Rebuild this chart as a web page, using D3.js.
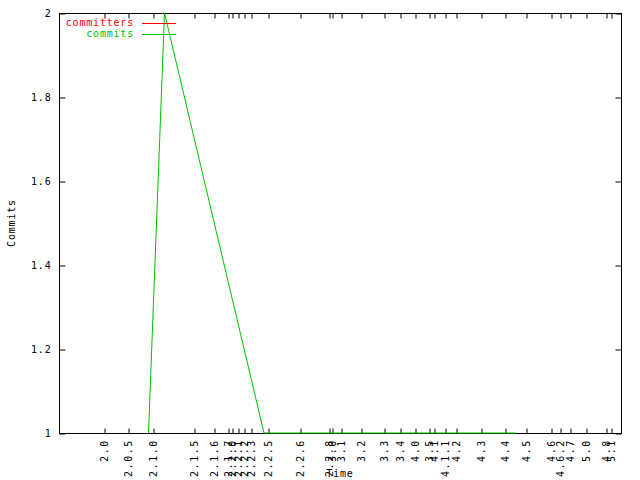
<!DOCTYPE html>
<html><head><meta charset="utf-8">
<script src="https://cdn.jsdelivr.net/npm/d3@7"></script>
<style>body{margin:0;background:#fff}text{font-family:"DejaVu Sans Mono",monospace;font-size:10px;letter-spacing:0.8px}</style>
</head><body><svg id="c" width="640" height="480"></svg>
<script>
// Time axis in days from start of plotted range
const tagNames = ["2.0","2.0.5","2.1.0","2.1.5","2.1.6","2.1.7","2.2.0","2.2.1","2.2.2","2.2.3","2.2.5","2.2.6","2.2.8","3.0","3.1","3.2","3.3","3.4","4.0","3.5","4.1","4.1.1","4.2","4.3","4.4","4.5","4.6","4.6.2","4.7","5.0","4.8","5.1"];
const tagDays = [90,138,188,270,310,338,346,358,370,384,418,482,540,546,564,604,650,682,712,740,750,772,794,844,892,934,984,1002,1022,1054,1094,1104];
const commitDays = [179,211,410,914];
const commitValues = [1,2,1,1];
const committerDays = [];
const committerValues = [];
const yTicks = [1,1.2,1.4,1.6,1.8,2];
const xDomain = [0,1124];
const yDomain = [1,2];

const svg = d3.select("#c");
const L=59,R=621,T=13,B=433;
const x = d3.scaleLinear().domain(xDomain).range([L,R]);
const y = d3.scaleLinear().domain(yDomain).range([B,T]);

svg.append("rect").attr("x",L+0.5).attr("y",T+0.5).attr("width",R-L).attr("height",B-T)
  .attr("fill","none").attr("stroke","#000").attr("stroke-width",1);

const yAx = d3.axisLeft(y).tickValues(yTicks).tickSize(-6).tickPadding(8).tickFormat(d3.format("~g"));
const gy = svg.append("g").attr("transform",`translate(${L+0.5},0.5)`).call(yAx);
gy.select(".domain").remove();
gy.selectAll("text").style("font-family","DejaVu Sans Mono").style("font-size","10px").style("letter-spacing","0.8px");
const gyr = svg.append("g").attr("transform",`translate(${R+0.5},0.5)`).call(d3.axisRight(y).tickValues(yTicks).tickSize(-6).tickFormat(""));
gyr.select(".domain").remove();

const gx = svg.append("g").attr("transform",`translate(0.5,${B+0.5})`).call(d3.axisBottom(x).tickValues(tagDays).tickSize(-5).tickFormat(""));
gx.select(".domain").remove();
const gxt = svg.append("g").attr("transform",`translate(0.5,${T+0.5})`).call(d3.axisTop(x).tickValues(tagDays).tickSize(-5).tickFormat(""));
gxt.select(".domain").remove();

svg.append("g").selectAll("text").data(tagNames).join("text")
  .attr("transform",(d,i)=>`translate(${Math.round(x(tagDays[i]))+4},439) rotate(-90)`)
  .attr("text-anchor","end").style("letter-spacing","1.6px")
  .text(d=>d);

svg.append("text").attr("x",340).attr("y",477).attr("text-anchor","middle").text("Time");
svg.append("text").attr("transform","translate(15,223) rotate(-90)").attr("text-anchor","middle").text("Commits");

const line = d3.line().x(d=>x(d[0])).y(d=>y(d[1]));
const committers = committerDays.map((d,i)=>[d,committerValues[i]]);
const commits = commitDays.map((d,i)=>[d,commitValues[i]]);
svg.append("path").datum(committers).attr("d",line).attr("fill","none").attr("stroke","#ff0000");
svg.append("path").datum(commits).attr("d",line).attr("fill","none").attr("stroke","#00c000");

const leg = [["committers","#ff0000"],["commits","#00c000"]];
leg.forEach((l,i)=>{
  const yy = 23 + i*11;
  svg.append("text").attr("x",134).attr("y",yy+3).attr("text-anchor","end").attr("fill",l[1]).text(l[0]);
  svg.append("line").attr("x1",142).attr("x2",176).attr("y1",yy+0.5).attr("y2",yy+0.5).attr("stroke",l[1]);
});
</script></body></html>
